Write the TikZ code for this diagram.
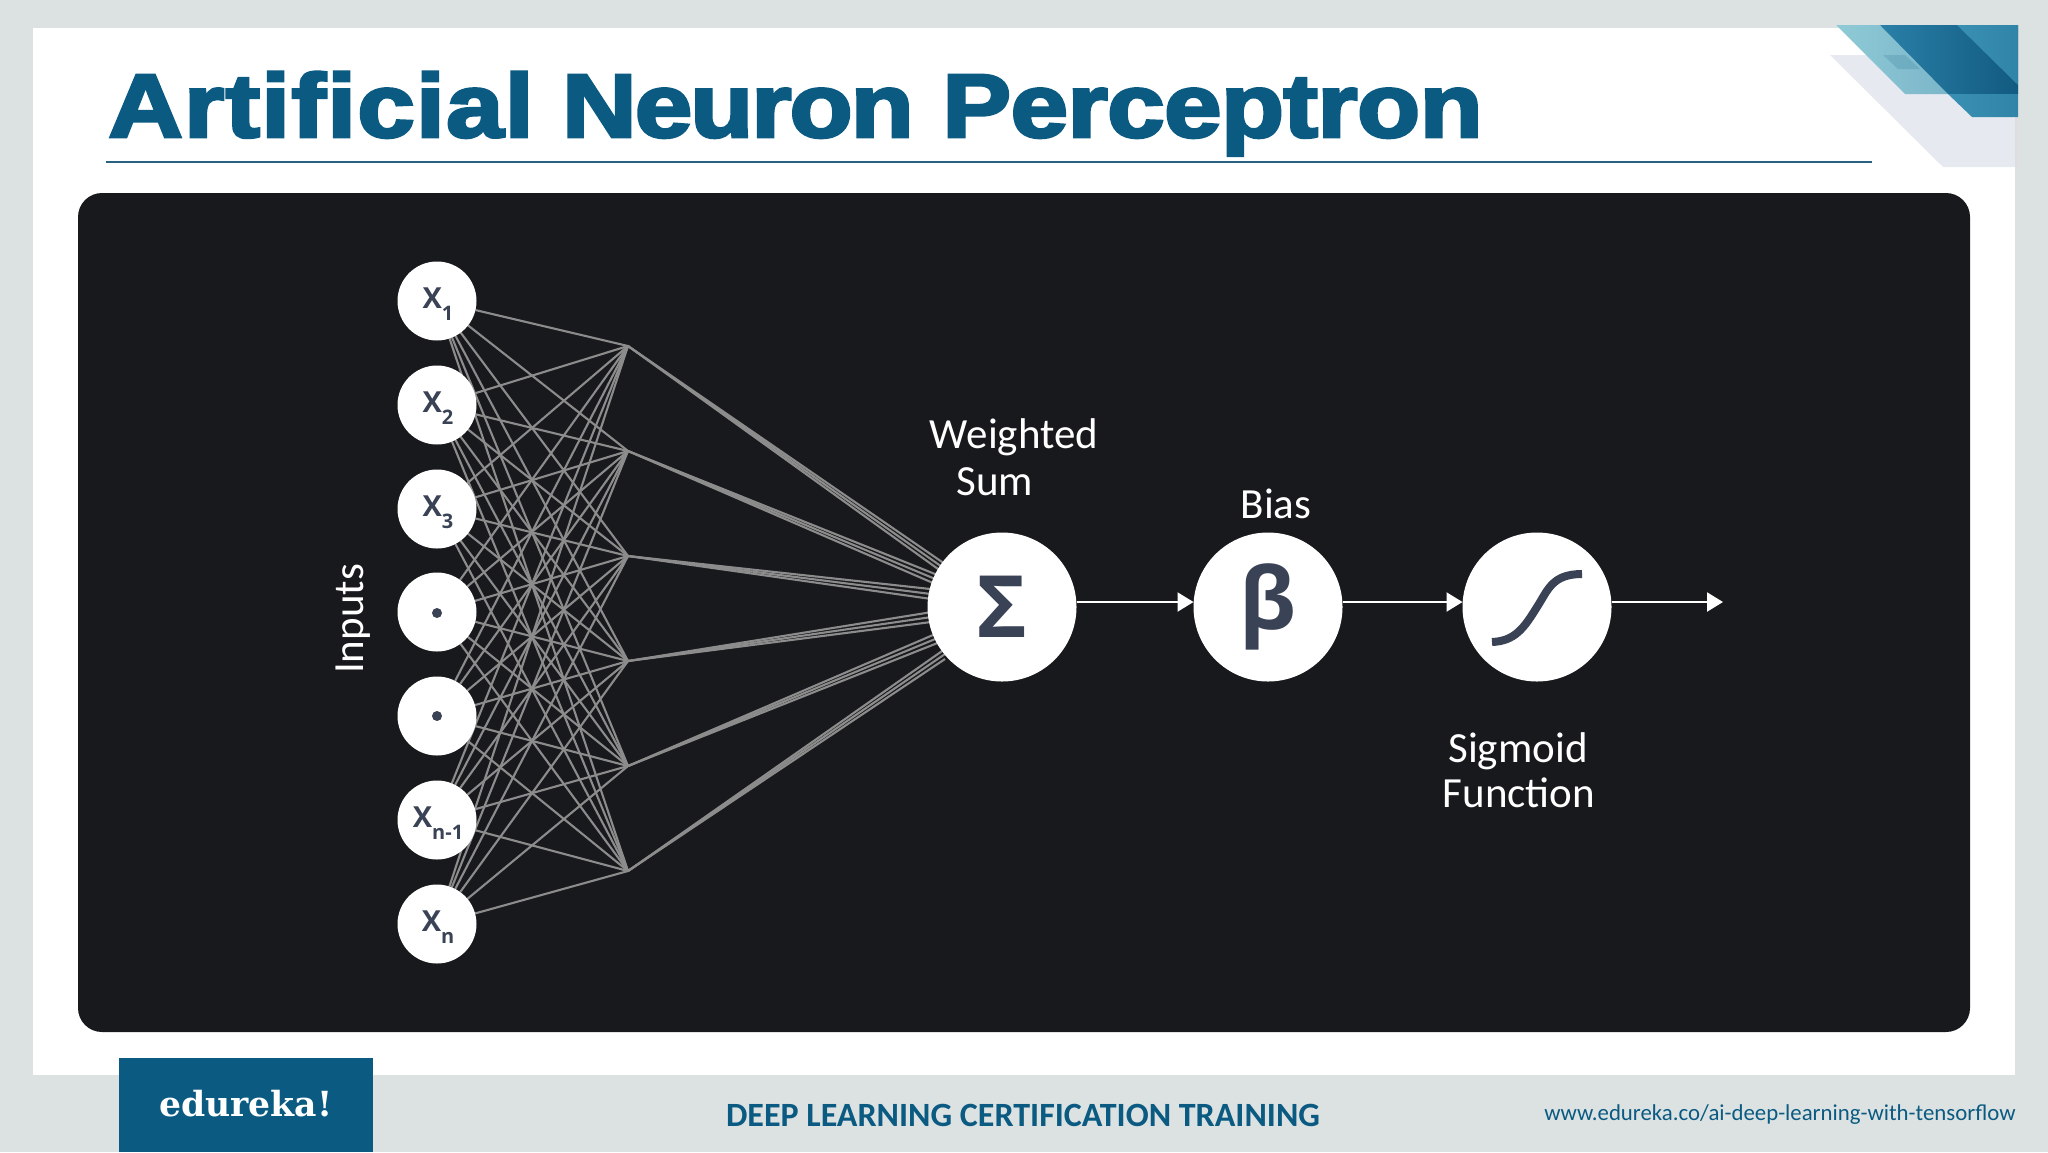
\documentclass[tikz,border=0pt]{standalone}
\usepackage{fontspec}
\usetikzlibrary{arrows.meta}
\setmainfont{Open Sans}
\newfontfamily\titlefont[FakeBold=3.2]{Liberation Sans Bold}
\newfontfamily\handfont{Carlito}
\newfontfamily\footfont{Carlito}
\newfontfamily\logofont{DejaVu Serif}
\definecolor{pagebg}{HTML}{DCE2E2}
\definecolor{brand}{HTML}{0A5A82}
\definecolor{panel}{HTML}{18191C}
\definecolor{ink}{HTML}{3A4256}
\definecolor{wire}{HTML}{8C8C8C}
\definecolor{cornergray}{HTML}{E6E9EF}
\definecolor{tealA}{HTML}{8FCAD6}
\definecolor{tealB}{HTML}{6FA9C2}
\definecolor{blueA}{HTML}{2A80A8}
\definecolor{blueB}{HTML}{125A80}
\definecolor{blueC}{HTML}{3A90B2}
\definecolor{blueD}{HTML}{2F84A8}
\pgfdeclarelayer{base}
\pgfdeclarelayer{wires}
\pgfsetlayers{base,wires,main}
\tikzset{
  inputnode/.style={circle,fill=white,minimum size=39.5pt,inner sep=0pt,outer sep=0pt,text=ink,font=\bfseries\fontsize{14.5}{16}\selectfont},
  opnode/.style={circle,fill=white,minimum size=74.5pt,inner sep=0pt,outer sep=0pt,text=ink,font=\bfseries\fontsize{43}{45}\selectfont},
  wireline/.style={draw=wire,line width=1.05pt},
  flow/.style={draw=white,line width=1.1pt,-{Triangle[length=8pt,width=9.5pt]}},
  hand/.style={text=white,inner sep=0pt,font=\handfont\fontsize{21.5}{24}\selectfont},
  dot/.style={circle,fill=ink,minimum size=5pt,inner sep=0pt}
}
\newcommand{\sbs}[1]{\raisebox{-0.42em}{\fontsize{10}{10}\selectfont #1}}
\newcommand{\xlab}[1]{\rule{0pt}{13.6pt}\hspace*{1pt}X\sbs{#1}}
\begin{document}
\begin{tikzpicture}[x=0.5pt,y=-0.5pt]
\useasboundingbox (0,0) rectangle (2048,1152);
\begin{pgfonlayer}{base}
\fill[pagebg] (0,0) rectangle (2048,1152);
\fill[white] (33,28) rectangle (2015,1075);
% corner decoration
\fill[cornergray] (1830,55) -- (2018,55) -- (2018,167) -- (1943,167) -- cycle;
\fill[black!13] (2015,117) rectangle (2018,167);
\path[left color=tealA,right color=tealB] (1836,25) -- (2018,25) -- (2018,94) -- (1905,94) -- cycle;
\fill[brand,opacity=.16] (1883,55) -- (1905,55) -- (1920,69) -- (1898,69) -- cycle;
\path[left color=blueA,right color=blueB] (1880,25) -- (2018,25) -- (2018,94) -- (1948,94) -- cycle;
\path[left color=blueC,right color=blueD] (1957,25) -- (2018,25) -- (2018,85) -- cycle;
\path[left color=blueC,right color=blueD] (1948,94) -- (2018,94) -- (2018,117) -- (1972,117) -- cycle;
% rule and panel
\draw[draw=brand!75!gray,line width=1pt] (106,162) -- (1872,162);
\fill[panel,rounded corners=12pt] (78,193) rectangle (1970,1032);
\end{pgfonlayer}
% title
\node[anchor=base west,inner sep=0pt,text=brand] (title) at (108,137)
  {\scalebox{1.145}[1.0]{\titlefont\fontsize{45}{48}\selectfont {\addfontfeature{LetterSpace=1.4}Artificial} {\addfontfeature{LetterSpace=-1.8}Neuron} {\addfontfeature{LetterSpace=-0.4}Perceptron}}};
% hidden junctions
\foreach \i/\y in {1/346,2/451,3/556,4/661,5/766,6/871}
  \coordinate (h\i) at (628,\y);
% inputs
\node[inputnode] (x1) at (437,301) {\xlab{1}};
\node[inputnode] (x2) at (437,405) {\xlab{2}};
\node[inputnode] (x3) at (437,509) {\xlab{3}};
\node[inputnode] (x4) at (437,612) {};
\node[inputnode] (x5) at (437,716) {};
\node[inputnode] (x6) at (437,820) {\xlab{n-1}};
\node[inputnode] (x7) at (437,924) {\xlab{n}};
\node[dot] (d4) at (437,613) {};
\node[dot] (d5) at (437,716) {};
% wires inputs to junctions
\begin{pgfonlayer}{wires}
\foreach \a in {1,...,7}
  \foreach \b in {1,...,6}
    \draw[wireline] (x\a) -- (h\b);
% wires junctions to sum
\foreach \i/\x/\y in {1/945/569,2/940/581,3/935/594.5,4/935/616.5,5/940/637,6/945/654}
  \foreach \k in {-5,0,5}{
    \coordinate (t\i\k) at (\x,\y+\k);
    \draw[wireline] (h\i) -- (t\i\k);
  }
\end{pgfonlayer}
% operators
\node[opnode] (sigma) at (1002,607) {Σ};
\node[opnode] (beta) at (1268,607) {β};
\node[opnode] (sig) at (1537,607) {};
\draw[ink,line width=4pt] (1492,642) .. controls (1515,641) and (1524,628) .. (1537,607) .. controls (1548,590) and (1552,574) .. (1582,574);
\coordinate (out) at (1723,602);
\draw[flow] ([yshift=2.5pt]sigma.east) -- ([yshift=2.5pt]beta.west);
\draw[flow] ([yshift=2.5pt]beta.east) -- ([yshift=2.5pt]sig.west);
\draw[flow] ([yshift=2.5pt]sig.east) -- (out);
% labels
\node[hand] (l1) at (1014,437) {Weighted};
\node[hand] (l2) at (995,482) {Sum};
\node[hand] (l3) at (1276,504) {Bias};
\node[hand] (l4) at (1518,751) {Sigmoid};
\node[hand] (l5) at (1519,793) {Function};
\node[hand,rotate=90] (l6) at (353,619) {Inputs};
% footer
\fill[brand] (119,1058) rectangle (373,1152);
\node[text=white,inner sep=0pt] (logo) at (246,1104) {\logofont\bfseries\fontsize{17.3}{20}\selectfont edureka!};
\node[text=brand,inner sep=0pt] (foot) at (1023,1115) {\footfont\bfseries\fontsize{17}{18}\selectfont DEEP LEARNING CERTIFICATION TRAINING};
\node[text=brand,inner sep=0pt,anchor=east] (url) at (2016,1115) {\footfont\fontsize{11.4}{14}\selectfont www.edureka.co/ai-deep-learning-with-tensorflow};
\end{tikzpicture}
\end{document}
